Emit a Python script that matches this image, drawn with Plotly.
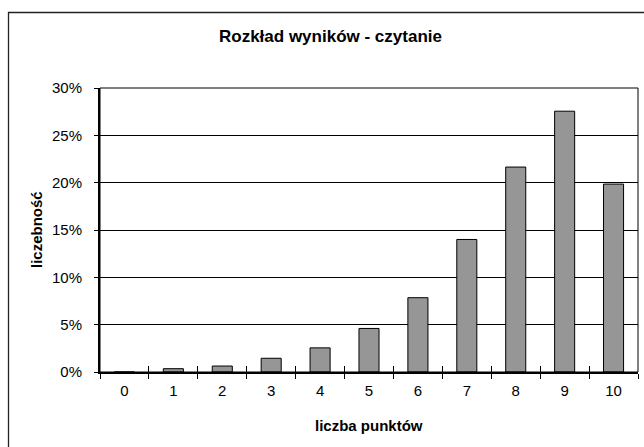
import plotly.graph_objects as go

categories = ["0", "1", "2", "3", "4", "5", "6", "7", "8", "9", "10"]
values = [0.0, 0.35, 0.63, 1.45, 2.55, 4.6, 7.85, 14.0, 21.65, 27.55, 19.85]
y_ticks = [0, 5, 10, 15, 20, 25, 30]
y_tick_labels = [f"{v}%" for v in y_ticks]

title_text = "Rozkład wyników - czytanie"
x_title = "liczba punktów"
y_title = "liczebność"

FONT = "Liberation Sans, Arial, sans-serif"

fig = go.Figure()
fig.add_trace(go.Bar(
    x=categories, y=values,
    marker=dict(color="#969696", line=dict(color="#000000", width=1)),
    hoverinfo="x+y",
))
# invisible copy to carry the inside tick marks of the crossing ticks
fig.add_trace(go.Bar(
    x=categories, y=values, xaxis="x2",
    marker=dict(color="rgba(0,0,0,0)", line=dict(width=0)),
    hoverinfo="skip", showlegend=False,
))

fig.update_layout(
    width=644, height=447,
    margin=dict(l=100, r=6, t=88, b=75),
    paper_bgcolor="white", plot_bgcolor="white",
    showlegend=False,
    bargap=0.59,
    font=dict(family=FONT, size=15, color="black"),
    xaxis=dict(
        type="category",
        tickson="boundaries",
        ticks="outside", ticklen=5, tickwidth=1, tickcolor="black",
        showline=True, linecolor="black", linewidth=2,
        showgrid=False,
        tickfont=dict(family=FONT, size=15, color="black"),
        ticklabelstandoff=4,
    ),
    xaxis2=dict(
        type="category", overlaying="x", anchor="y", side="bottom",
        tickson="boundaries",
        ticks="inside", ticklen=6, tickwidth=1, tickcolor="black",
        showticklabels=False, showline=False, showgrid=False,
    ),
    yaxis=dict(
        range=[0, 30], tickmode="array", tickvals=y_ticks, ticktext=y_tick_labels,
        ticks="outside", ticklen=4, tickwidth=1, tickcolor="black",
        showline=True, linecolor="black", linewidth=2,
        showgrid=True, gridcolor="black", gridwidth=1,
        zeroline=False,
        tickfont=dict(family=FONT, size=15, color="black"),
        ticklabelstandoff=9,
    ),
    shapes=[
        dict(type="rect", xref="paper", yref="paper", x0=0, x1=1, y0=0, y1=1,
             line=dict(color="black", width=1), layer="above"),
        dict(type="rect", xref="paper", yref="paper",
             x0=(8.5 - 100) / 538, x1=(660 - 100) / 538,
             y0=(372 - 470) / 284, y1=(372 - 12.5) / 284,
             line=dict(color="#222222", width=1.3)),
    ],
    annotations=[
        dict(text=title_text, xref="paper", yref="paper",
             x=(330 - 100) / 538, y=(372 - 37) / 284,
             xanchor="center", yanchor="middle", showarrow=False,
             font=dict(family=FONT, size=17, color="black", weight="bold")),
        dict(text=x_title, xref="paper", yref="paper",
             x=0.5, y=(372 - 425) / 284,
             xanchor="center", yanchor="middle", showarrow=False,
             font=dict(family=FONT, size=15, color="black", weight="bold")),
        dict(text=y_title, xref="paper", yref="paper",
             x=(36 - 100) / 538, y=0.5, textangle=-90,
             xanchor="center", yanchor="middle", showarrow=False,
             font=dict(family=FONT, size=15, color="black", weight="bold")),
    ],
)

fig.write_html(
    "out.html",
    config={"displayModeBar": False},
    post_script="document.body.style.margin='0';document.body.style.overflow='hidden';",
)
